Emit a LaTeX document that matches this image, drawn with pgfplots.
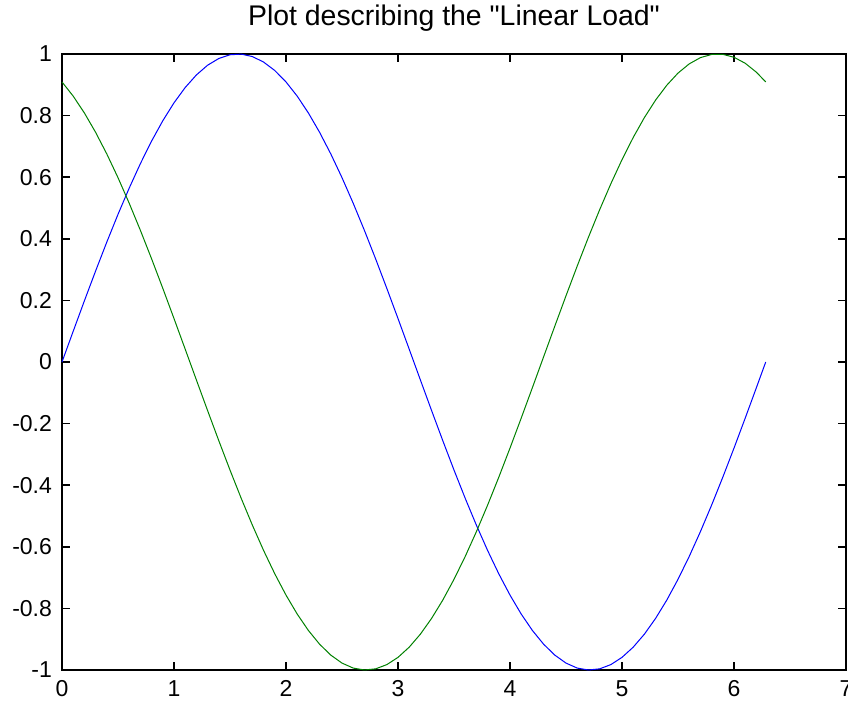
\documentclass[border=0pt]{standalone}
\usepackage{pgfplots}
\pgfplotsset{compat=1.18}
\usetikzlibrary{calc}
\usepackage{fontspec}
\setmainfont{Liberation Sans}[Ligatures=TeXOff]
\definecolor{mblue}{RGB}{0,0,255}
\definecolor{mgreen}{RGB}{0,128,0}
\begin{document}
\begin{tikzpicture}
\begin{axis}[
  scale only axis,
  width=392pt, height=308pt,
  xmin=0, xmax=7, ymin=-1, ymax=1,
  xtick={0,1,2,3,4,5,6,7},
  xticklabels={0,1,2,3,4,5,6,7},
  ytick={-1,-0.8,-0.6,-0.4,-0.2,0,0.2,0.4,0.6,0.8,1},
  yticklabels={-1,-0.8,-0.6,-0.4,-0.2,0,0.2,0.4,0.6,0.8,1},
  tick align=inside,
  major tick length=4pt,
  tick style={black, line width=0.8pt},
  axis line style={black, line width=0.8pt},
  ticklabel style={font=\fontsize{11.5}{13}\selectfont},
  xticklabel style={yshift=-1.8pt},
  yticklabel style={xshift=-1.5pt},
  title={Plot describing the "Linear Load"},
  title style={font=\fontsize{14.2}{16}\selectfont, anchor=base, at={(0.5,1)}, yshift=8.5pt},
  clip=false,
]
\coordinate (ll) at (rel axis cs:0,0);
\coordinate (ur) at (rel axis cs:1,1);
\addplot[mblue, line width=0.5pt] coordinates {
(0,0) (0.1,0.0998) (0.2,0.1987) (0.3,0.2955) (0.4,0.3894) (0.5,0.4794)
(0.6,0.5646) (0.7,0.6442) (0.8,0.7174) (0.9,0.7833) (1.0,0.8415)
(1.1,0.8912) (1.2,0.9320) (1.3,0.9636) (1.4,0.9854) (1.5,0.9975)
(1.6,0.9996) (1.7,0.9917) (1.8,0.9738) (1.9,0.9463) (2.0,0.9093)
(2.1,0.8632) (2.2,0.8085) (2.3,0.7457) (2.4,0.6755) (2.5,0.5985)
(2.6,0.5155) (2.7,0.4274) (2.8,0.3350) (2.9,0.2392) (3.0,0.1411)
(3.1,0.0416) (3.2,-0.0584) (3.3,-0.1577) (3.4,-0.2555) (3.5,-0.3508)
(3.6,-0.4425) (3.7,-0.5298) (3.8,-0.6119) (3.9,-0.6878) (4.0,-0.7568)
(4.1,-0.8183) (4.2,-0.8716) (4.3,-0.9162) (4.4,-0.9516) (4.5,-0.9775)
(4.6,-0.9937) (4.7,-0.9999) (4.8,-0.9962) (4.9,-0.9825) (5.0,-0.9589)
(5.1,-0.9258) (5.2,-0.8835) (5.3,-0.8323) (5.4,-0.7728) (5.5,-0.7055)
(5.6,-0.6313) (5.7,-0.5507) (5.8,-0.4646) (5.9,-0.3739) (6.0,-0.2794)
(6.1,-0.1822) (6.2,-0.0831) (6.2832,0)
};
\addplot[mgreen, line width=0.5pt] coordinates {
(0,0.9093) (0.1,0.8632) (0.2,0.8085) (0.3,0.7457) (0.4,0.6755) (0.5,0.5985)
(0.6,0.5155) (0.7,0.4274) (0.8,0.3350) (0.9,0.2392) (1.0,0.1411)
(1.1,0.0416) (1.2,-0.0584) (1.3,-0.1577) (1.4,-0.2555) (1.5,-0.3508)
(1.6,-0.4425) (1.7,-0.5298) (1.8,-0.6119) (1.9,-0.6878) (2.0,-0.7568)
(2.1,-0.8183) (2.2,-0.8716) (2.3,-0.9162) (2.4,-0.9516) (2.5,-0.9775)
(2.6,-0.9937) (2.7,-0.9999) (2.8,-0.9962) (2.9,-0.9825) (3.0,-0.9589)
(3.1,-0.9258) (3.2,-0.8835) (3.3,-0.8323) (3.4,-0.7728) (3.5,-0.7055)
(3.6,-0.6313) (3.7,-0.5507) (3.8,-0.4646) (3.9,-0.3739) (4.0,-0.2794)
(4.1,-0.1822) (4.2,-0.0831) (4.3,0.0168) (4.4,0.1165) (4.5,0.2151)
(4.6,0.3115) (4.7,0.4049) (4.8,0.4941) (4.9,0.5784) (5.0,0.6570)
(5.1,0.7290) (5.2,0.7937) (5.3,0.8504) (5.4,0.8987) (5.5,0.9380)
(5.6,0.9679) (5.7,0.9882) (5.8,0.9985) (5.9,0.9989) (6.0,0.9894)
(6.1,0.9699) (6.2,0.9408) (6.2832,0.9093)
};
\end{axis}
\pgfresetboundingbox
\path ($(ll)+(-31pt,-16.5pt)$) rectangle ($(ur)+(1pt,27pt)$);
\end{tikzpicture}
\end{document}
